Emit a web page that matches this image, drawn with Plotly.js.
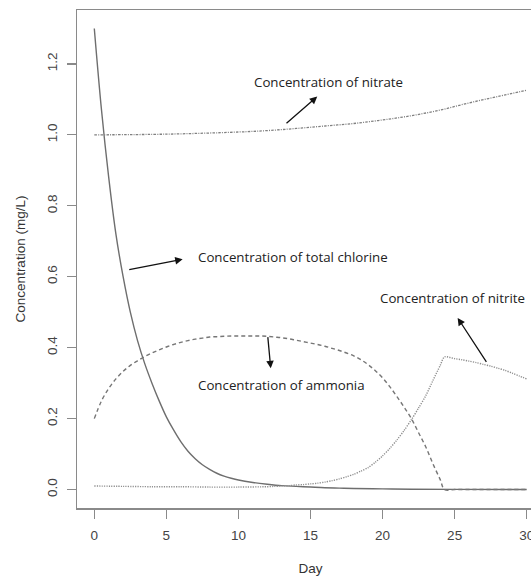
<!DOCTYPE html>
<html>
<head>
<meta charset="utf-8">
<script src="https://cdn.plot.ly/plotly-3.0.1.min.js"></script>
<style>
  html, body { margin: 0; padding: 0; background: #fff; overflow: hidden; }
  #chart { width: 560px; height: 577px; }
</style>
</head>
<body>
<div id="chart"></div>
<script>
// Total chlorine (mg/L) by day
const chlorineDays = [0, 0.5, 1, 1.5, 2, 2.5, 3, 3.5, 4, 4.5, 5, 5.5, 6, 6.5, 7, 7.5, 8, 8.5, 9, 9.5, 10, 11, 12, 13, 14, 15, 16, 17, 18, 20, 22, 25, 30];
const chlorineVals = [1.30, 1.07, 0.88, 0.72, 0.60, 0.50, 0.42, 0.355, 0.30, 0.25, 0.205, 0.168, 0.135, 0.108, 0.087, 0.070, 0.057, 0.046, 0.038, 0.032, 0.027, 0.020, 0.015, 0.011, 0.009, 0.007, 0.005, 0.004, 0.003, 0.002, 0.001, 0.0005, 0.0003];

// Ammonia (mg/L) by day
const ammoniaDays = [0, 0.5, 1, 1.5, 2, 2.5, 3, 3.5, 4, 4.5, 5, 5.5, 6, 6.5, 7, 7.5, 8, 8.5, 9, 9.5, 10, 10.5, 11, 11.5, 12, 12.5, 13, 13.5, 14, 14.5, 15, 15.5, 16, 16.5, 17, 17.5, 18, 18.5, 19, 19.5, 20, 20.5, 21, 21.5, 22, 22.5, 23, 23.5, 24, 24.3, 25, 26, 27, 28, 29, 30];
const ammoniaVals = [0.200, 0.250, 0.285, 0.312, 0.333, 0.350, 0.363, 0.375, 0.385, 0.394, 0.402, 0.409, 0.415, 0.420, 0.424, 0.427, 0.430, 0.431, 0.432, 0.433, 0.433, 0.433, 0.433, 0.433, 0.432, 0.430, 0.428, 0.425, 0.421, 0.417, 0.413, 0.409, 0.404, 0.398, 0.392, 0.385, 0.377, 0.366, 0.352, 0.335, 0.315, 0.290, 0.262, 0.232, 0.200, 0.160, 0.120, 0.072, 0.028, 0.0, 0.0, 0.0, 0.0, 0.0, 0.0, 0.0];

// Nitrite (mg/L) by day
const nitriteDays = [0, 2, 4, 6, 8, 10, 12, 12.5, 13, 13.5, 14, 14.5, 15, 15.5, 16, 16.5, 17, 17.5, 18, 18.5, 19, 19.5, 20, 20.5, 21, 21.5, 22, 22.5, 23, 23.5, 24, 24.3, 25, 25.5, 26, 26.5, 27, 27.5, 28, 28.5, 29, 29.5, 30];
const nitriteVals = [0.010, 0.009, 0.008, 0.008, 0.007, 0.007, 0.008, 0.009, 0.010, 0.011, 0.013, 0.014, 0.016, 0.018, 0.021, 0.025, 0.030, 0.036, 0.043, 0.052, 0.062, 0.077, 0.095, 0.116, 0.140, 0.167, 0.197, 0.230, 0.265, 0.308, 0.350, 0.374, 0.369, 0.366, 0.362, 0.358, 0.353, 0.348, 0.342, 0.336, 0.328, 0.320, 0.312];

// Nitrate (mg/L) by day
const nitrateDays = [0, 5, 10, 12, 14, 16, 18, 20, 22, 24, 26, 28, 30];
const nitrateVals = [1.000, 1.002, 1.008, 1.012, 1.018, 1.025, 1.032, 1.042, 1.054, 1.070, 1.090, 1.108, 1.126];

// Axis ticks
const dayTicks = [0, 5, 10, 15, 20, 25, 30];
const concTicks = [0.0, 0.2, 0.4, 0.6, 0.8, 1.0, 1.2];
const concTickText = ['0.0', '0.2', '0.4', '0.6', '0.8', '1.0', '1.2'];

// Callout labels: text, anchor side and point (day, conc), arrow tail and head (day, conc)
const labelTexts = ['Concentration of nitrate', 'Concentration of total chlorine', 'Concentration of ammonia', 'Concentration of nitrite'];
const labelAnchor = ['left', 'left', 'left', 'right'];
const labelX = [10.92, 7.06, 7.06, 30.05];
const labelY = [1.148, 0.656, 0.295, 0.540];
const arrowTailX = [13.23, 2.32, 12.03, 27.27];
const arrowTailY = [1.029, 0.619, 0.434, 0.356];
const arrowHeadX = [15.47, 6.13, 12.24, 25.21];
const arrowHeadY = [1.108, 0.649, 0.342, 0.484];

const traces = [
  { x: chlorineDays, y: chlorineVals, mode: 'lines', line: { color: '#6e6e6e', width: 1.4, shape: 'spline', smoothing: 1 } },
  { x: ammoniaDays, y: ammoniaVals, mode: 'lines', line: { color: '#767676', width: 1.4, dash: '4px,3px', shape: 'spline', smoothing: 1 } },
  { x: nitriteDays, y: nitriteVals, mode: 'lines', line: { color: '#8e8e8e', width: 1.4, dash: '1.2px,1.2px', shape: 'spline', smoothing: 0.8 } },
  { x: nitrateDays, y: nitrateVals, mode: 'lines', line: { color: '#808080', width: 1.3, dash: '2.5px,1.2px,1px,1.2px', shape: 'spline', smoothing: 1 } }
];

const annotations = [];
for (let i = 0; i < labelTexts.length; i++) {
  annotations.push({
    x: labelX[i], y: labelY[i], xref: 'x', yref: 'y',
    text: labelTexts[i], showarrow: false,
    xanchor: labelAnchor[i], yanchor: 'middle',
    font: { family: 'Open Sans, sans-serif', size: 13.3, color: '#222' }
  });
  annotations.push({
    x: arrowHeadX[i], y: arrowHeadY[i], xref: 'x', yref: 'y',
    ax: arrowTailX[i], ay: arrowTailY[i], axref: 'x', ayref: 'y',
    text: '', showarrow: true, arrowhead: 2, arrowsize: 1.15, arrowwidth: 1.3, arrowcolor: '#111'
  });
}

const axisCommon = {
  showgrid: false, zeroline: false,
  showline: true, mirror: true, linecolor: '#8a8a8a', linewidth: 1.5,
  ticks: 'outside', ticklen: 9, tickwidth: 1.2, tickcolor: '#8a8a8a',
  tickfont: { family: 'Liberation Sans, Arial, sans-serif', size: 13.5, color: '#444' }
};
const titleFont = { family: 'Liberation Sans, Arial, sans-serif', size: 13.5, color: '#333' };

const layout = {
  width: 560, height: 577,
  margin: { l: 77, r: 16, t: 10, b: 69 },
  paper_bgcolor: '#fff', plot_bgcolor: '#fff',
  showlegend: false,
  xaxis: Object.assign({}, axisCommon, {
    range: [-1.2, 31.2], tickvals: dayTicks, ticktext: dayTicks.map(String),
    ticklabelstandoff: 5,
    title: { text: 'Day', standoff: 22, font: titleFont }
  }),
  yaxis: Object.assign({}, axisCommon, {
    range: [-0.052, 1.352], tickvals: concTicks, ticktext: concTickText, tickangle: -90,
    ticklabelstandoff: 4,
    title: { text: 'Concentration (mg/L)', standoff: 16, font: titleFont }
  }),
  annotations: annotations
};

Plotly.newPlot('chart', traces, layout, { staticPlot: true, displayModeBar: false });
</script>
</body>
</html>
